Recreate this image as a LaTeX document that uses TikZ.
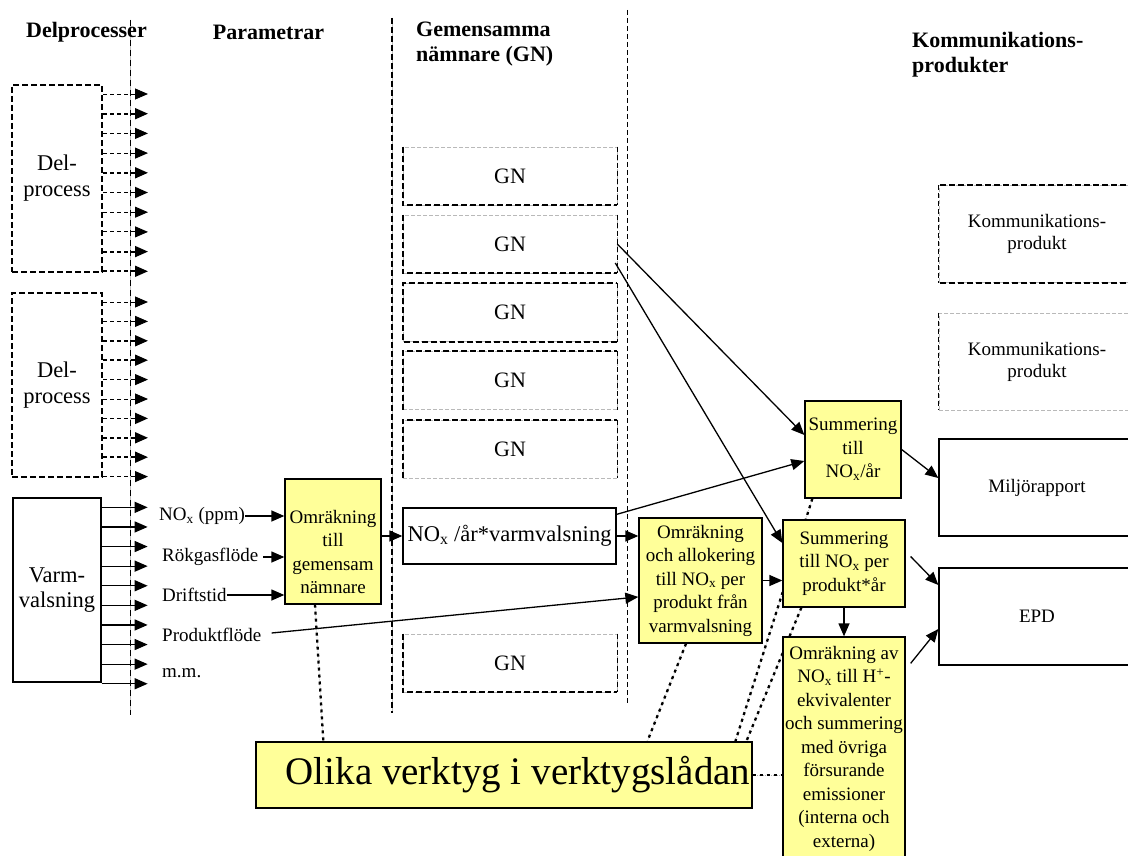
\documentclass[tikz,border=0pt]{standalone}
\usepackage{fontspec}
\setmainfont{Liberation Serif}
\usetikzlibrary{arrows.meta,calc,backgrounds}
\definecolor{toolyellow}{RGB}{255,255,153}

\begin{document}
\begin{tikzpicture}[x=1pt,y=-1pt,
	>={Triangle[length=13pt,width=11pt]},
	plain/.style={draw,line width=1.3pt,inner sep=0pt,align=center,font=\fontsize{19}{23.5}\selectfont},
	tool/.style={plain,fill=toolyellow},
	dpbox/.style={draw,line width=2pt,dash pattern=on 6pt off 3pt,inner sep=0pt,align=center,font=\fontsize{22.5}{26}\selectfont,minimum width=90},
	gnbox/.style={draw=gray!55,line width=0.6pt,dash pattern=on 4pt off 2pt,inner sep=0pt,font=\fontsize{22}{26}\selectfont,minimum width=214,minimum height=58},
	kpbox/.style={draw=gray!55,line width=0.6pt,dash pattern=on 4pt off 2pt,inner sep=0pt,align=center,font=\fontsize{19}{22}\selectfont,minimum width=196,minimum height=97},
	heavydash/.style={line width=2.2pt,dash pattern=on 6pt off 3pt},
	lightdash/.style={line width=0.7pt,dash pattern=on 5pt off 3pt},
	head/.style={inner sep=0pt,align=left,font=\bfseries\fontsize{22}{25}\selectfont},
	param/.style={anchor=west,inner sep=0pt,font=\fontsize{19}{23}\selectfont},
	conn/.style={line width=1.3pt,->},
	toolline/.style={line width=2.3pt,dash pattern=on 3pt off 4pt,preaction={draw=gray!60,line width=0.5pt,dash pattern=on 1pt off 1pt}},
	septhin/.style={line width=0.7pt,dash pattern=on 6pt off 4pt,preaction={draw=gray!50,line width=0.4pt,solid}},
	septhick/.style={line width=2pt,dash pattern=on 6pt off 3pt,preaction={draw=gray!50,line width=0.5pt,solid}}]

	\useasboundingbox (0,0) rectangle (1128,856);
	\clip (0,0) rectangle (1128,856);

	\coordinate (sa1) at (130,20);
	\coordinate (sa2) at (130,715);
	\coordinate (sb1) at (392,18);
	\coordinate (sb2) at (392,713);
	\coordinate (sc1) at (627,10);
	\coordinate (sc2) at (627,703);
	\draw [septhin](sa1) -- (sa2);
	\draw [septhick](sb1) -- (sb2);
	\draw [lightdash](sc1) -- (sc2);

	\node [head] (hdel) at (86.5,32) {Delprocesser};
	\node [head] (hpar) at (268.5,32) {Parametrar};
	\node [head,anchor=west] (hgn) at (416,44.5) {Gemensamma\\nämnare (GN)};
	\node [head,anchor=west] (hkom) at (912,55) {Kommunikations-\\produkter};

	\node [dpbox,minimum height=187] (dp1) at (57,178.5) {Del-\\process};
	\node [dpbox,minimum height=184] (dp2) at (57,385) {Del-\\process};
	\node [plain,font=\fontsize{22.5}{25}\selectfont,minimum width=88,minimum height=184] (vv) at (57,590) {Varm-\\valsning};

	\foreach \i/\w in {0/0.9,1/1.8,2/0.9,3/0.9,4/1.8,5/1.8,6/0.9,7/0.9,8/1.8,9/1.8}
		\draw [->,line width=\w pt,dash pattern=on 4pt off 3pt]($(dp1.north east)+(0,10+19.7*\i)$) -- ++(45,0);
	\foreach \i/\w in {0/0.9,1/0.9,2/1.8,3/1.8,4/0.9,5/0.9,6/1.8,7/1.8,8/1.8,9/0.9}
		\draw [->,line width=\w pt,dash pattern=on 4pt off 3pt]($(dp2.north east)+(0,10+19.4*\i)$) -- ++(45,0);
	\foreach \i in {0,...,9}
		\draw [conn]($(vv.north east)+(0,10+19.6*\i)$) -- ++(46,0);

	\node [param] (p1) at (159,516) {NO\textsubscript{x} (ppm)};
	\node [param] (p2) at (162,557) {Rökgasflöde};
	\node [param] (p3) at (162,595) {Driftstid};
	\node [param] (p4) at (162,635) {Produktflöde};
	\node [param] (p5) at (162,673) {m.m.};

	\node [tool,minimum width=96,minimum height=125] (om1) at (333,541.5) {\rule{0pt}{34pt}Omräkning\\till\\gemensam\\nämnare};

	\node [gnbox] (gn1) at (510,176) {GN};
	\node [gnbox] (gn2) at (510,244) {GN};
	\node [gnbox] (gn3) at (510,312.5) {GN};
	\node [gnbox] (gn4) at (510,380.5) {GN};
	\node [gnbox] (gn5) at (510,449) {GN};
	\node [gnbox] (gn6) at (510,663) {GN};
	\foreach \b in {gn1,gn2,gn6}
		\draw [heavydash](\b.north west) -- (\b.south west) -- (\b.south east);
	\draw [heavydash](gn3.south east) -- (gn3.south west) -- (gn3.north west) -- (gn3.north east);
	\foreach \b in {gn4,gn5}
		\draw [heavydash](\b.south west) -- (\b.north west) -- (\b.north east);
	\foreach \b in {gn1,gn2,gn3,gn4,gn5,gn6}
		\draw [lightdash](\b.north east) -- (\b.south east);

	\node [plain,font=\fontsize{22.5}{26}\selectfont,minimum width=213,minimum height=56] (nox) at (509.5,536) {NO\textsubscript{x} /år*varmvalsning};
	\node [tool,minimum width=123,minimum height=125] (om2) at (700.5,580.5) {Omräkning\\och allokering\\till NO\textsubscript{x} per\\produkt från\\varmvalsning};

	\node [tool,minimum width=96,minimum height=97] (s1) at (853,449.5) {Summering\\till\\NO\textsubscript{x}/år};
	\node [tool,minimum width=122,minimum height=87] (s2) at (844,563.5) {Summering\\till NO\textsubscript{x} per\\produkt*år};
	\node [tool,minimum width=122,minimum height=223] (om3) at (844,748.5) {Omräkning av\\NO\textsubscript{x} till H\textsuperscript{+}-\\ekvivalenter\\och summering\\med övriga\\försurande\\emissioner\\(interna och\\externa)};

	\node [kpbox] (kp1) at (1037,234) {Kommunikations-\\produkt};
	\node [kpbox] (kp2) at (1037,361.5) {Kommunikations-\\produkt};
	\draw [heavydash](kp1.north east) -- (kp1.north west);
	\draw [heavydash](kp1.south east) -- (kp1.south west);
	\draw [lightdash](kp1.north west) -- (kp1.south west);
	\draw [lightdash](kp2.north west) -- (kp2.south west);

	\node [plain,minimum width=196,minimum height=97] (mr) at (1037,487.5) {Miljörapport};
	\node [plain,minimum width=196,minimum height=97] (epd) at (1037,616.5) {EPD};

	\node [tool,font=\fontsize{39}{44}\selectfont,minimum width=496,minimum height=66] (tools) at (504,775) {\hspace*{28pt}Olika verktyg i verktygslådan};

	\draw [conn](p1.east) -- (om1.west |- p1.east);
	\draw [conn]($(p2.east)+(5,0)$) -- (om1.west |- p2.east);
	\draw [conn](p3.east) -- (om1.west |- p3.east);
	\draw [line width=1.3pt,->]($(p4.east)+(10,-2)$) -- ($(om2.north west)!0.63!(om2.south west)$);
	\draw [conn](om1.east |- nox.west) -- (nox.west);
	\draw [conn](nox.east) -- (nox.east -| om2.west);
	\draw [conn]($(nox.north east)+(0,7)$) -- ($(s1.west)+(0,11.5)$);
	\draw [conn](gn2.east) -- ($(s1.west)+(0,-14.5)$);
	\draw [conn]($(gn2.east)+(-2,19)$) -- ($(s2.west)+(0,-20.5)$);
	\draw [conn](om2.east) -- (om2.east -| s2.west);
	\draw [conn](s1.east) -- ($(mr.west)+(0,-9.5)$);
	\draw [conn]($(s2.east)+(5,-7)$) -- ($(epd.west)+(0,-31.5)$);
	\draw [conn](s2.south) -- (om3.north);
	\draw [conn]($(om3.north east)+(5,27)$) -- ($(epd.west)+(0,12.5)$);

	\begin{pgfonlayer}{background}
		\fill [white](0,0) rectangle (1128,856);
		\draw [toolline]($(om1.south)+(-18,0)$) -- ($(tools.north west)+(68,0)$);
		\draw [toolline]($(om2.south)+(-14.5,0)$) -- ($(tools.north west)+(392,0)$);
		\draw [toolline]($(s1.south west)+(8,0)$) -- ($(tools.north west)+(480,0)$);
		\draw [toolline]($(s2.south west)+(19,0)$) -- ($(tools.north west)+(491,0)$);
		\draw [toolline](tools.east) -- (tools.east -| om3.west);
	\end{pgfonlayer}
\end{tikzpicture}
\end{document}
